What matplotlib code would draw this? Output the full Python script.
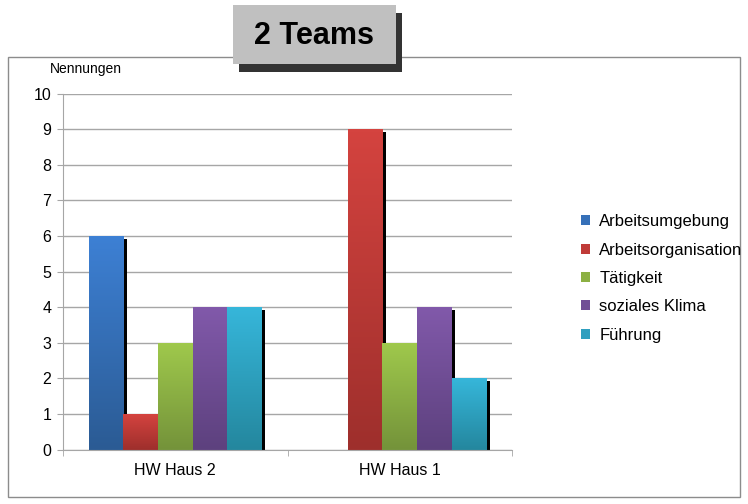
import matplotlib
matplotlib.use("Agg")
import matplotlib.pyplot as plt
import numpy as np
from matplotlib.patches import Rectangle, Patch
import matplotlib.patheffects as pe
from matplotlib.colors import LinearSegmentedColormap

plt.rcParams['font.family'] = ['Liberation Sans', 'DejaVu Sans']

categories = ["HW Haus 2", "HW Haus 1"]
series = ["Arbeitsumgebung", "Arbeitsorganisation", "Tätigkeit", "soziales Klima", "Führung"]
values = {
    "Arbeitsumgebung": [6, 0],
    "Arbeitsorganisation": [1, 9],
    "Tätigkeit": [3, 3],
    "soziales Klima": [4, 4],
    "Führung": [4, 2],
}
top_colors = ["#3d80d4", "#d4433f", "#9fc84c", "#8159aa", "#36b6da"]
bot_colors = ["#2b5b94", "#9e2f2c", "#74933a", "#5d417e", "#24879e"]
mid_colors = ["#3670b8", "#c03b38", "#8cb043", "#714e96", "#2f9fbf"]
yticks = list(range(0, 11))

W, H = 748, 504
fig = plt.figure(figsize=(W / 100, H / 100), dpi=100)

# outer frame
fig.patches.append(Rectangle((8 / W, 1 - 497 / H), (740 - 8) / W, (497 - 57) / H,
                             transform=fig.transFigure, fill=False, edgecolor="#8c8c8c", lw=1, zorder=0))

ax = fig.add_axes([63 / W, 1 - 449.5 / H, 449 / W, 356 / H])
ax.set_facecolor("none")

n = len(series)
group_w = 0.77
bw = group_w / n
x = np.arange(len(categories))
for i, s in enumerate(series):
    pos = x - group_w / 2 + bw * (i + 0.5)
    ax.bar(pos, values[s], width=bw, color=mid_colors[i], zorder=2,
           path_effects=[pe.SimplePatchShadow(offset=(2.5, -2.2), shadow_rgbFace="black", alpha=1.0), pe.Normal()])
    cmap = LinearSegmentedColormap.from_list("g%d" % i, [bot_colors[i], top_colors[i]])
    for p, v in zip(pos, values[s]):
        if v <= 0:
            continue
        grad = np.linspace(1, 0, 100).reshape(-1, 1)
        ax.imshow(grad, cmap=cmap, extent=(p - bw / 2, p + bw / 2, 0, v), aspect="auto",
                  zorder=3 + i * 0.01, interpolation="bilinear")

ax.set_xlim(-0.5, len(categories) - 0.5)
ax.set_ylim(0, 10)
ax.set_yticks(yticks)
ax.yaxis.grid(True, color="#a6a6a6", lw=1)
ax.set_axisbelow(True)
for sp in ["top", "right"]:
    ax.spines[sp].set_visible(False)
for sp in ["left", "bottom"]:
    ax.spines[sp].set_color("#a6a6a6")
    ax.spines[sp].set_zorder(5)
ax.set_xticks(x)
ax.set_xticklabels(categories, fontsize=11.5)
ax.tick_params(axis="x", length=0, pad=10)
ax.set_xticks(np.arange(-0.5, len(categories), 1.0), minor=True)
ax.tick_params(axis="x", which="minor", length=4, color="#a6a6a6", direction="out")
ax.tick_params(axis="y", length=4.5, color="#a6a6a6", labelsize=11.5, pad=4)

# y label
fig.text(86 / W, 1 - 69 / H, "Nennungen", ha="center", va="center", fontsize=10)

# legend
handles = [Patch(facecolor=mid_colors[i], edgecolor="none") for i in range(n)]
fig.legend(handles, series, loc="center left", bbox_to_anchor=(581 / W, 1 - 278.5 / H),
           frameon=False, fontsize=12, handlelength=0.55, handleheight=0.55,
           handletextpad=0.55, labelspacing=0.8, borderpad=0, borderaxespad=0)

# title box
fig.patches.append(Rectangle((239 / W, 1 - 72 / H), (402 - 239) / W, (72 - 13) / H,
                             transform=fig.transFigure, facecolor="#333333", edgecolor="none", zorder=1))
fig.patches.append(Rectangle((233 / W, 1 - 64 / H), (396 - 233) / W, (64 - 5) / H,
                             transform=fig.transFigure, facecolor="#c0c0c0", edgecolor="none", zorder=2))
fig.text(314 / W, 1 - 36.5 / H, "2 Teams", ha="center", va="center", fontsize=22,
         fontweight="bold", zorder=3)

fig.savefig("out.png", dpi=100)
